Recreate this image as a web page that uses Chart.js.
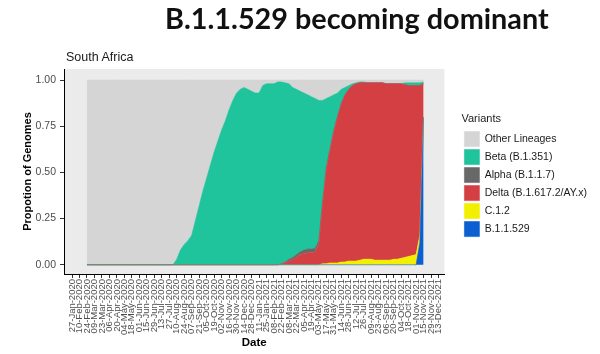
<!DOCTYPE html>
<html>
<head>
<meta charset="utf-8">
<script src="https://cdn.jsdelivr.net/npm/chart.js@4.4.1/dist/chart.umd.min.js"></script>
<style>
  html, body { margin: 0; padding: 0; background: #fff; }
  #wrap { position: relative; width: 600px; height: 354px; overflow: hidden; }
  #chart { position: absolute; left: 0; top: 0; }
  #headline { position: absolute; left: 165px; top: 1px; font: 700 28.8px Lato, sans-serif; color: #111; white-space: nowrap; }
  #region { position: absolute; left: 66px; top: 50px; font: 12.5px "Liberation Sans", Arial, sans-serif; color: #1a1a1a; }
</style>
</head>
<body>
<div id="wrap">
  <canvas id="chart" width="600" height="354"></canvas>
  <div id="headline">B.1.1.529 becoming dominant</div>
  <div id="region">South Africa</div>
</div>
<script>
const MONTHS = ['Jan', 'Feb', 'Mar', 'Apr', 'May', 'Jun', 'Jul', 'Aug', 'Sep', 'Oct', 'Nov', 'Dec'];

// x axis labels, every two weeks
const tickLabels = [
  '27-Jan-2020', '10-Feb-2020', '24-Feb-2020', '09-Mar-2020', '23-Mar-2020', '06-Apr-2020', '20-Apr-2020',
  '04-May-2020', '18-May-2020', '01-Jun-2020', '15-Jun-2020', '29-Jun-2020', '13-Jul-2020', '27-Jul-2020',
  '10-Aug-2020', '24-Aug-2020', '07-Sep-2020', '21-Sep-2020', '05-Oct-2020', '19-Oct-2020', '02-Nov-2020',
  '16-Nov-2020', '30-Nov-2020', '14-Dec-2020', '28-Dec-2020', '11-Jan-2021', '25-Jan-2021', '08-Feb-2021',
  '22-Feb-2021', '08-Mar-2021', '22-Mar-2021', '05-Apr-2021', '19-Apr-2021', '03-May-2021', '17-May-2021',
  '31-May-2021', '14-Jun-2021', '28-Jun-2021', '12-Jul-2021', '26-Jul-2021', '09-Aug-2021', '23-Aug-2021',
  '06-Sep-2021', '20-Sep-2021', '04-Oct-2021', '18-Oct-2021', '01-Nov-2021', '15-Nov-2021', '29-Nov-2021',
  '13-Dec-2021'
];

// sampled weeks
const weeks = [
  '24-Feb-2020', '02-Mar-2020', '09-Mar-2020', '16-Mar-2020', '23-Mar-2020', '30-Mar-2020', '06-Apr-2020',
  '13-Apr-2020', '20-Apr-2020', '27-Apr-2020', '04-May-2020', '11-May-2020', '18-May-2020', '25-May-2020',
  '01-Jun-2020', '08-Jun-2020', '15-Jun-2020', '22-Jun-2020', '29-Jun-2020', '06-Jul-2020', '13-Jul-2020',
  '20-Jul-2020', '27-Jul-2020', '03-Aug-2020', '10-Aug-2020', '17-Aug-2020', '24-Aug-2020', '31-Aug-2020',
  '07-Sep-2020', '14-Sep-2020', '21-Sep-2020', '28-Sep-2020', '05-Oct-2020', '12-Oct-2020', '19-Oct-2020',
  '26-Oct-2020', '02-Nov-2020', '09-Nov-2020', '16-Nov-2020', '23-Nov-2020', '30-Nov-2020', '07-Dec-2020',
  '14-Dec-2020', '21-Dec-2020', '28-Dec-2020', '04-Jan-2021', '11-Jan-2021', '18-Jan-2021', '25-Jan-2021',
  '01-Feb-2021', '08-Feb-2021', '15-Feb-2021', '22-Feb-2021', '01-Mar-2021', '08-Mar-2021', '15-Mar-2021',
  '22-Mar-2021', '29-Mar-2021', '05-Apr-2021', '12-Apr-2021', '19-Apr-2021', '26-Apr-2021', '03-May-2021',
  '10-May-2021', '17-May-2021', '24-May-2021', '31-May-2021', '07-Jun-2021', '14-Jun-2021', '21-Jun-2021',
  '28-Jun-2021', '05-Jul-2021', '12-Jul-2021', '19-Jul-2021', '26-Jul-2021', '02-Aug-2021', '09-Aug-2021',
  '16-Aug-2021', '23-Aug-2021', '30-Aug-2021', '06-Sep-2021', '13-Sep-2021', '20-Sep-2021', '27-Sep-2021',
  '04-Oct-2021', '11-Oct-2021', '18-Oct-2021', '25-Oct-2021', '01-Nov-2021', '08-Nov-2021', '15-Nov-2021'
];

// proportions per week (same order as weeks)
const b11529 = [
  0, 0, 0, 0, 0, 0, 0, 0, 0, 0, 0, 0, 0, 0, 0, 0, 0, 0, 0, 0, 0, 0, 0, 0,
  0, 0, 0, 0, 0, 0, 0, 0, 0, 0, 0, 0, 0, 0, 0, 0, 0, 0, 0, 0, 0, 0, 0, 0,
  0, 0, 0, 0, 0, 0, 0, 0, 0, 0, 0, 0, 0, 0, 0, 0, 0, 0, 0, 0, 0, 0, 0, 0,
  0, 0, 0, 0, 0, 0, 0, 0, 0, 0, 0, 0, 0, 0, 0, 0, 0, 0.12, 0.80
];
const c12 = [
  0, 0, 0, 0, 0, 0, 0, 0, 0, 0, 0, 0, 0, 0, 0, 0, 0, 0, 0, 0, 0, 0, 0, 0,
  0, 0, 0, 0, 0, 0, 0, 0, 0, 0, 0, 0, 0, 0, 0, 0, 0, 0, 0, 0, 0, 0, 0, 0,
  0, 0, 0, 0, 0, 0, 0, 0, 0, 0, 0, 0, 0, 0, 0,
  0.005, 0.005, 0.01, 0.01, 0.01, 0.015, 0.015, 0.02, 0.02, 0.02, 0.025, 0.03,
  0.03, 0.03, 0.025, 0.025, 0.025, 0.025, 0.025, 0.03, 0.03, 0.035,
  0.04, 0.045, 0.05, 0.055, 0.04, 0
];
const delta = [
  0, 0, 0, 0, 0, 0, 0, 0, 0, 0, 0, 0, 0, 0, 0, 0, 0, 0, 0, 0, 0, 0, 0, 0,
  0, 0, 0, 0, 0, 0, 0, 0, 0, 0, 0, 0, 0, 0, 0, 0, 0, 0, 0, 0, 0, 0, 0, 0,
  0, 0, 0, 0,
  0.005, 0.01, 0.02, 0.03, 0.04, 0.055, 0.06, 0.065, 0.065, 0.07, 0.11,
  0.32, 0.51, 0.61, 0.71, 0.79, 0.855, 0.905, 0.93, 0.95, 0.96, 0.96, 0.955,
  0.955, 0.955, 0.96, 0.96, 0.96, 0.955, 0.955, 0.95, 0.95, 0.945,
  0.935, 0.925, 0.92, 0.915, 0.81, 0.18
];
const alpha = [
  0, 0, 0, 0, 0, 0, 0, 0, 0, 0, 0, 0, 0, 0, 0, 0, 0, 0, 0, 0, 0, 0, 0, 0,
  0, 0, 0, 0, 0, 0, 0, 0, 0, 0, 0, 0, 0, 0, 0, 0, 0, 0, 0, 0, 0, 0, 0, 0,
  0, 0, 0, 0, 0,
  0.005, 0.01, 0.01, 0.015, 0.015, 0.02, 0.02, 0.02, 0.02, 0.02, 0.02, 0.015, 0.01, 0.01, 0.005, 0.005,
  0, 0, 0, 0, 0, 0, 0, 0, 0, 0, 0, 0, 0, 0, 0, 0, 0, 0, 0, 0, 0, 0
];
const beta = [
  0, 0, 0, 0, 0, 0, 0, 0, 0, 0, 0, 0, 0, 0, 0, 0, 0, 0, 0, 0, 0, 0, 0, 0,
  0.03, 0.08, 0.11, 0.13, 0.16, 0.24, 0.32, 0.40, 0.47, 0.54, 0.61, 0.67, 0.73, 0.78,
  0.84, 0.89, 0.93, 0.95, 0.96, 0.95, 0.94, 0.93, 0.93, 0.97, 0.98, 0.98, 0.98, 0.99,
  0.985, 0.97, 0.95, 0.92, 0.895, 0.87, 0.85, 0.835, 0.825, 0.81, 0.76,
  0.545, 0.37, 0.28, 0.19, 0.125, 0.075, 0.04, 0.02, 0.01, 0.005, 0.005, 0.005,
  0, 0, 0, 0, 0, 0, 0, 0, 0, 0,
  0.01, 0.015, 0.015, 0.015, 0.015, 0.01
];
const other = [
  1, 1, 1, 1, 1, 1, 1, 1, 1, 1, 1, 1, 1, 1, 1, 1, 1, 1, 1, 1, 1, 1, 1, 1,
  0.97, 0.92, 0.89, 0.87, 0.84, 0.76, 0.68, 0.60, 0.53, 0.46, 0.39, 0.33, 0.27, 0.22,
  0.16, 0.11, 0.07, 0.05, 0.04, 0.05, 0.06, 0.07, 0.07, 0.03, 0.02, 0.02, 0.02, 0.01,
  0.01, 0.015, 0.02, 0.04, 0.05, 0.06, 0.07, 0.08, 0.09, 0.10, 0.11,
  0.11, 0.10, 0.09, 0.08, 0.07, 0.05, 0.04, 0.03, 0.02, 0.015, 0.01, 0.01,
  0.015, 0.015, 0.015, 0.015, 0.015, 0.02, 0.02, 0.02, 0.02, 0.02,
  0.015, 0.015, 0.015, 0.015, 0.015, 0.01
];

const dayNum = s => {
  const [d, m, y] = s.split('-');
  return Date.UTC(+y, MONTHS.indexOf(m), +d) / 864e5;
};

// bottom of the stack first
const series = [
  { label: 'B.1.1.529', values: b11529, color: '#0b5fd0' },
  { label: 'C.1.2', values: c12, color: '#f3ef00' },
  { label: 'Delta (B.1.617.2/AY.x)', values: delta, color: '#d43f44' },
  { label: 'Alpha (B.1.1.7)', values: alpha, color: '#686868' },
  { label: 'Beta (B.1.351)', values: beta, color: '#1fc39c' },
  { label: 'Other Lineages', values: other, color: '#d5d5d5' }
];

const panelBg = {
  id: 'panelBg',
  beforeDraw(chart) {
    const { ctx, chartArea: a } = chart;
    ctx.save();
    ctx.fillStyle = '#ebebeb';
    ctx.fillRect(a.left, a.top, a.right - a.left, a.bottom - a.top);
    ctx.restore();
  }
};

const tickFont = { family: '"Liberation Sans", Arial, sans-serif' };
const firstTick = dayNum(tickLabels[0]);
const lastTick = dayNum(tickLabels[tickLabels.length - 1]);

new Chart(document.getElementById('chart'), {
  type: 'line',
  data: {
    datasets: series.map((s, k) => ({
      label: s.label,
      data: s.values.map((v, i) => ({ x: dayNum(weeks[i]), y: v })),
      backgroundColor: s.color,
      borderColor: s.color,
      borderWidth: 0.6,
      fill: k === 0 ? 'origin' : '-1',
      pointRadius: 0,
      tension: 0
    }))
  },
  options: {
    responsive: false,
    animation: false,
    events: [],
    layout: { padding: { top: 69, left: 0, right: 3, bottom: 0 } },
    scales: {
      x: {
        type: 'linear',
        min: firstTick - 15,
        max: lastTick + 11,
        afterBuildTicks: scale => { scale.ticks = tickLabels.map(t => ({ value: dayNum(t) })); },
        afterFit: scale => { scale.height = 80; },
        ticks: {
          autoSkip: false,
          minRotation: 90,
          maxRotation: 90,
          padding: 1,
          color: '#4d4d4d',
          font: { ...tickFont, size: 9.5 },
          callback: (v, i) => tickLabels[i]
        },
        grid: { display: true, drawOnChartArea: false, drawTicks: true, tickLength: 4, tickColor: '#333' },
        border: { display: true, color: '#000', width: 1 },
        title: {
          display: true,
          text: 'Date',
          color: '#000',
          font: { ...tickFont, size: 11.5, weight: 'bold' },
          padding: { top: 0, bottom: 4 }
        }
      },
      y: {
        stacked: true,
        min: -0.05,
        max: 1.06,
        afterBuildTicks: scale => { scale.ticks = [0, 0.25, 0.5, 0.75, 1].map(v => ({ value: v })); },
        afterFit: scale => { scale.width = 64; },
        ticks: {
          padding: 4,
          color: '#4d4d4d',
          font: { ...tickFont, size: 10.5 },
          callback: v => v.toFixed(2)
        },
        grid: { display: true, drawOnChartArea: false, drawTicks: true, tickLength: 4, tickColor: '#333' },
        border: { display: true, color: '#000', width: 1 },
        title: {
          display: true,
          text: 'Propotion of Genomes',
          color: '#000',
          font: { ...tickFont, size: 11, weight: 'bold' },
          padding: { top: 21, bottom: 0 }
        }
      },
      gap: {
        type: 'linear',
        position: 'right',
        display: true,
        grid: { display: false },
        border: { display: false },
        ticks: { display: false },
        afterFit: scale => { scale.width = 17; }
      }
    },
    plugins: {
      tooltip: { enabled: false },
      legend: {
        position: 'right',
        fullSize: false,
        reverse: true,
        maxWidth: 220,
        title: {
          display: true,
          text: 'Variants',
          position: 'start',
          color: '#1a1a1a',
          font: { ...tickFont, size: 11 },
          padding: { top: 10, bottom: 2 }
        },
        labels: {
          boxWidth: 15,
          boxHeight: 15,
          padding: 3,
          color: '#1a1a1a',
          font: { ...tickFont, size: 10.5 }
        }
      }
    }
  },
  plugins: [panelBg]
});
</script>
</body>
</html>
